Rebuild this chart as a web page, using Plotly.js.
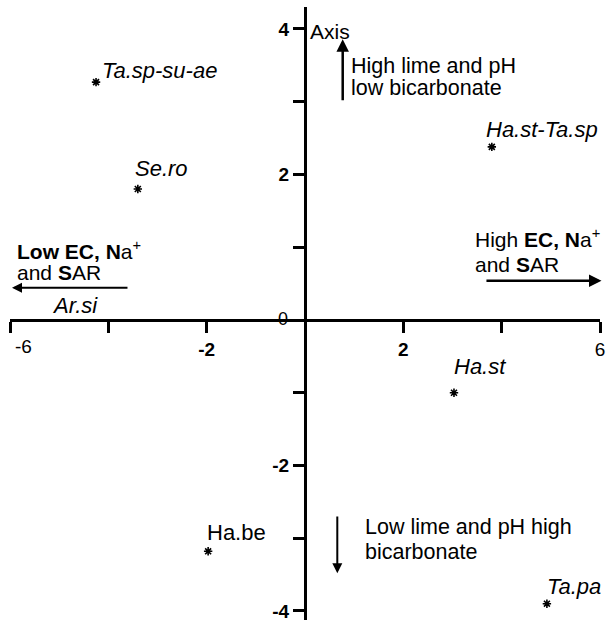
<!DOCTYPE html>
<html>
<head>
<meta charset="utf-8">
<script src="https://cdn.plot.ly/plotly-3.0.1.min.js"></script>
<style>html,body{margin:0;padding:0;background:#fff;}#chart{width:609px;height:622px;}</style>
</head>
<body>
<div id="chart"></div>
<script>
// ---- data ----
const species = ["Ta.sp-su-ae", "Se.ro", "Ha.st-Ta.sp", "Ar.si", "Ha.st", "Ha.be", "Ta.pa"];
const axis1 = [-4.25, -3.40, 3.80, -5.13, 3.03, -1.97, 4.92];
const axis2 = [3.27, 1.80, 2.38, 0.00, -1.00, -3.18, -3.90];
const xTickVals = [-6, -4, -2, 2, 4, 6];
const xTickText = ["", "", "<b>-2</b>", "<b>2</b>", "", "6"];
const xEdgeLabel = "-6";
const yTickVals = [-4, -3, -2, -1, 1, 2, 3, 4];
const yTickText = ["<b>-4</b>", "", "<b>-2</b>", "", "", "<b>2</b>", "", "<b>4</b>"];

// ---- styles (label offsets in px, italic flags, hidden marks) ----
const labelShift = {
  "Ta.sp-su-ae": [4, 12], "Se.ro": [-5, 21], "Ha.st-Ta.sp": [-8, 17],
  "Ar.si": [-3, 14], "Ha.st": [-2, 26], "Ha.be": [-3, 19], "Ta.pa": [-2, 17]
};
const uprightLabels = ["Ha.be"];
const hiddenMarks = ["Ar.si"]; // its star lies under the axis line in the original

const FONT = "Liberation Sans, Arial, sans-serif";
const fs = 22;

const trace = {
  x: axis1, y: axis2, mode: "markers", type: "scatter",
  marker: {symbol: "asterisk-open", size: 7, color: "#000",
    opacity: species.map(s => hiddenMarks.includes(s) ? 0 : 1),
    line: {color: "#000", width: 1.6}},
  cliponaxis: false, hoverinfo: "skip"
};

const ann = [];
species.forEach((s, i) => {
  const sh = labelShift[s];
  ann.push({
    x: axis1[i], y: axis2[i], xref: "x", yref: "y",
    text: uprightLabels.includes(s) ? s : "<i>" + s + "</i>",
    showarrow: false, xanchor: "left", yanchor: "middle",
    xshift: sh[0], yshift: sh[1], font: {family: FONT, size: fs, color: "#000"}
  });
});

function txt(t, x, y, xa, size) {
  ann.push({x: x, y: y, xref: "x", yref: "y", text: t, showarrow: false,
    xanchor: xa || "left", yanchor: "middle", font: {family: FONT, size: size || fs, color: "#000"}});
}
txt("Axis", 0.06, 3.96, "left", 21);
txt("High lime and pH", 0.895, 3.49, "left", 21.5);
txt("low bicarbonate", 0.895, 3.19, "left", 21.5);
txt("<b>Low EC, N</b>a<sup>+</sup>", -5.90, 0.96, "left", 21);
txt("and <b>S</b>AR", -5.90, 0.646, "left", 21);
txt("High <b>EC, N</b>a<sup>+</sup>", 3.41, 1.127, "left", 21);
txt("and <b>S</b>AR", 3.41, 0.756, "left", 21);
txt("Axis", 6.04, 0.183, "right", 21);
txt("Low lime and pH high", 1.18, -2.85, "left", 21.5);
txt("bicarbonate", 1.18, -3.185, "left", 21.5);
// origin label and the leftmost x tick label
ann.push({x: 0, y: 0, xref: "x", yref: "y", text: "0", showarrow: false,
  xanchor: "center", yanchor: "middle", xshift: -22, yshift: 1,
  font: {family: FONT, size: 18, color: "#000"}});
ann.push({x: -6, y: 0, xref: "x", yref: "y", text: xEdgeLabel, showarrow: false,
  xanchor: "center", yanchor: "middle", xshift: 13, yshift: -27,
  font: {family: FONT, size: 19, color: "#000"}});

function arrow(x0, y0, x1, y1, w) {
  ann.push({x: x1, y: y1, ax: x0, ay: y0, xref: "x", yref: "y", axref: "x", ayref: "y",
    text: "", showarrow: true, arrowhead: 2, arrowsize: 1, arrowwidth: w, arrowcolor: "#000", standoff: 0});
}
arrow(0.767, 3.0, 0.767, 3.86, 2.5);
arrow(-3.58, 0.444, -5.96, 0.444, 2);
arrow(3.66, 0.54, 6.03, 0.54, 2.5);
arrow(0.657, -2.68, 0.657, -3.48, 2);

const ymin = -4.124, ymax = 4.302;
const layout = {
  width: 609, height: 622,
  margin: {l: 10, r: 9, t: 7, b: 2, pad: 0},
  paper_bgcolor: "#fff", plot_bgcolor: "#fff",
  showlegend: false,
  font: {family: FONT, color: "#000"},
  xaxis: {
    range: [-6, 6], anchor: "free", position: (0 - ymin) / (ymax - ymin),
    showline: true, linecolor: "#000", linewidth: 3,
    showgrid: false, zeroline: false,
    ticks: "outside", ticklen: 11, tickwidth: 3, tickcolor: "#000",
    tickmode: "array", tickvals: xTickVals, ticktext: xTickText,
    tickfont: {family: FONT, size: 19, color: "#000"},
    automargin: false, fixedrange: true
  },
  yaxis: {
    range: [ymin, ymax], anchor: "free", position: 0.5,
    showline: true, linecolor: "#000", linewidth: 3,
    showgrid: false, zeroline: false,
    ticks: "outside", ticklen: 11, tickwidth: 3, tickcolor: "#000",
    tickmode: "array", tickvals: yTickVals, ticktext: yTickText,
    tickfont: {family: FONT, size: 19, color: "#000"},
    automargin: false, fixedrange: true
  },
  annotations: ann
};
Plotly.newPlot("chart", [trace], layout, {displayModeBar: false, staticPlot: true});
</script>
</body>
</html>
